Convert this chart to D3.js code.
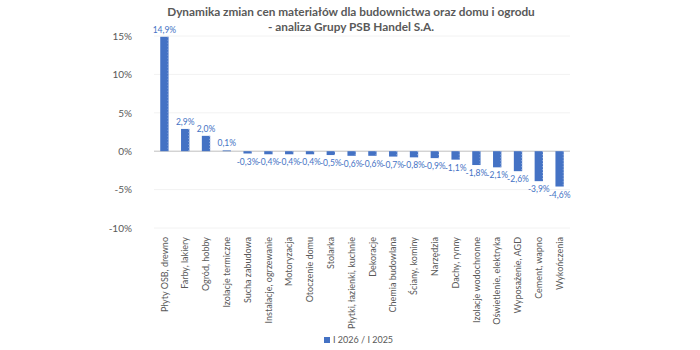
<!DOCTYPE html>
<html><head><meta charset="utf-8">
<script src="https://cdn.jsdelivr.net/npm/d3@7"></script>
<style>body{margin:0;background:#fff}svg{display:block}text{font-family:Lato,"Open Sans",sans-serif}</style>
</head><body><svg id="c" width="700" height="350"></svg>
<script>
const categories = ["Płyty OSB, drewno","Farby, lakiery","Ogród, hobby","Izolacje termiczne","Sucha zabudowa","Instalacje, ogrzewanie","Motoryzacja","Otoczenie domu","Stolarka","Płytki, łazienki, kuchnie","Dekoracje","Chemia budowlana","Ściany, kominy","Narzędzia","Dachy, rynny","Izolacje wodochronne","Oświetlenie, elektryka","Wyposażenie, AGD","Cement, wapno","Wykończenia"];
const values = [14.9,2.9,2.0,0.1,-0.3,-0.4,-0.4,-0.4,-0.5,-0.6,-0.6,-0.7,-0.8,-0.9,-1.1,-1.8,-2.1,-2.6,-3.9,-4.6];
const yTicks = [15,10,5,0,-5,-10];
const seriesName = "I 2026 / I 2025";
const titleLines = ["Dynamika zmian cen materiałów dla budownictwa oraz domu i ogrodu","- analiza Grupy PSB Handel S.A."];

const svg = d3.select("#c");
const L=154, R=570, T=36, B=228;
const x = d3.scaleBand().domain(categories).range([L,R]).paddingInner(0.6).paddingOuter(0.3);
const y = d3.scaleLinear().domain([-10,15]).range([B,T]);
const blue="#4472C4", grey="#595959";

svg.selectAll(".t").data(titleLines).enter().append("text")
  .attr("x",351).attr("y",(d,i)=>12+i*15).attr("dy","0.35em").attr("text-anchor","middle")
  .attr("font-size",11.8).attr("font-weight","bold").attr("fill",grey).text(d=>d);

svg.append("g").selectAll("line").data(yTicks).enter().append("line")
  .attr("x1",L).attr("x2",R).attr("y1",d=>y(d)).attr("y2",d=>y(d))
  .attr("stroke",d=>d===0?"#bfbfbf":"#f2f2f2").attr("stroke-width",1);

const yAxis = svg.append("g").attr("transform",`translate(${L-19},0)`)
  .call(d3.axisLeft(y).tickValues(yTicks).tickSize(0).tickFormat(d=>d+"%"));
yAxis.select(".domain").remove();
yAxis.selectAll("text").attr("fill",grey).attr("font-size",10).attr("font-family","Lato,sans-serif");

svg.append("g").selectAll("rect").data(values).enter().append("rect")
  .attr("x",(d,i)=>x(categories[i])).attr("width",x.bandwidth())
  .attr("y",d=>y(Math.max(0,d))).attr("height",d=>Math.abs(y(d)-y(0)))
  .attr("fill",blue);
svg.append("g").selectAll("line").data(values).enter().append("line")
  .attr("x1",(d,i)=>x(categories[i])+x.bandwidth()-0.5).attr("x2",(d,i)=>x(categories[i])+x.bandwidth()-0.5)
  .attr("y1",d=>y(Math.max(0,d))).attr("y2",d=>y(Math.min(0,d)))
  .attr("stroke","#9fb6e0").attr("stroke-width",1).attr("stroke-dasharray","1,2");

const fmt = v => (v<0?"-":"")+Math.abs(v).toFixed(1).replace(".",",")+"%";
svg.append("g").selectAll("text").data(values).enter().append("text")
  .attr("x",(d,i)=>x(categories[i])+x.bandwidth()/2)
  .attr("y",d=>d>=0?y(d)-4:y(d)+11)
  .attr("text-anchor","middle").attr("font-size",8.5).attr("fill",blue).text(fmt);

const xAxis = svg.append("g").attr("transform",`translate(0,${B})`)
  .call(d3.axisBottom(x).tickSize(0).tickPadding(0));
xAxis.select(".domain").remove();
xAxis.selectAll("text").attr("transform","rotate(-90)").attr("text-anchor","end")
  .attr("x",-9).attr("y",0).attr("dy","0.35em").attr("dx",0)
  .attr("fill",grey).attr("font-size",9).attr("font-family","Lato,sans-serif");

const lg = svg.append("g").attr("transform","translate(324,340)");
lg.append("rect").attr("x",0).attr("y",-3).attr("width",6).attr("height",6).attr("fill",blue);
lg.append("text").attr("x",9).attr("y",0).attr("dy","0.35em").attr("font-size",9).attr("fill",grey).text(seriesName);
</script></body></html>
